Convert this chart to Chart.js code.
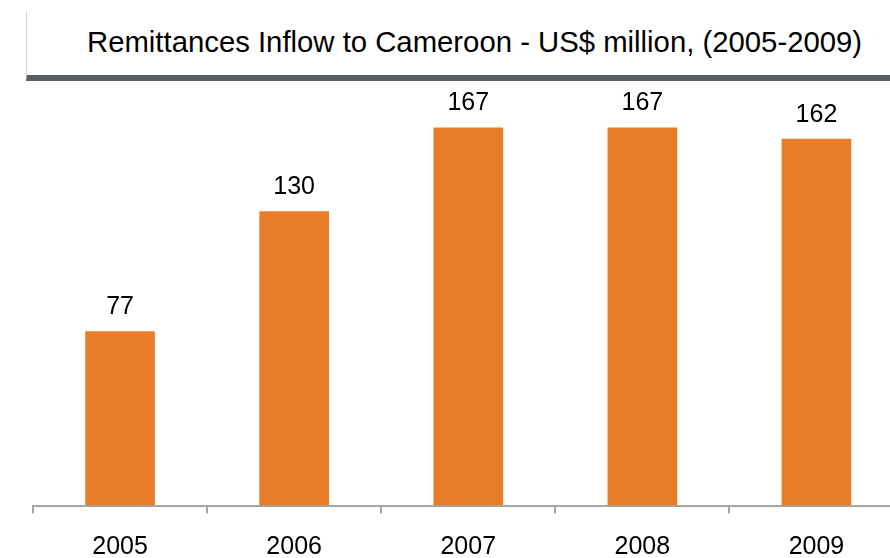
<!DOCTYPE html>
<html>
<head>
<meta charset="utf-8">
<script src="https://cdn.jsdelivr.net/npm/chart.js@4.4.0/dist/chart.umd.min.js"></script>
<style>
  html, body { margin: 0; padding: 0; background: #fff; overflow: hidden; width: 890px; height: 558px; }
  body { position: relative; font-family: 'Liberation Sans', Arial, sans-serif; }
  #header { position: absolute; left: 26px; top: 11px; width: 863px; height: 64px;
            border-left: 1px solid #d9d9d9; border-bottom: 6px solid #5b5f61; }
  #title { position: absolute; left: 87px; top: 27px; font-size: 29.3px; line-height: 29px;
           color: #000; white-space: nowrap; }
  #wrap { position: absolute; left: 0; top: 0; width: 906px; height: 558px; }
</style>
</head>
<body>
<div id="header"></div>
<div id="title">Remittances Inflow to Cameroon - US$ million, (2005-2009)</div>
<div id="wrap"><canvas id="barChart"></canvas></div>
<script>
  // data
  const years = ['2005', '2006', '2007', '2008', '2009'];
  const remittances = [77, 130, 167, 167, 162];

  const barColor = '#E87C28';
  const axisColor = '#a6a6a6';
  const fontFamily = "'Liberation Sans', Arial, sans-serif";

  // values above the bars
  const valueLabels = {
    id: 'valueLabels',
    afterDatasetsDraw(chart) {
      const ctx = chart.ctx;
      const meta = chart.getDatasetMeta(0);
      ctx.save();
      ctx.font = '25px ' + fontFamily;
      ctx.fillStyle = '#000';
      ctx.textAlign = 'center';
      ctx.textBaseline = 'alphabetic';
      meta.data.forEach((bar, i) => {
        ctx.fillText(String(remittances[i]), bar.x, bar.y - 17);
      });
      ctx.restore();
    }
  };

  const ctx = document.getElementById('barChart').getContext('2d');
  const myBarChart = new Chart(ctx, {
    type: 'bar',
    data: {
      labels: years,
      datasets: [{
        data: remittances,
        backgroundColor: barColor,
        borderWidth: 0,
        barPercentage: 0.4,
        categoryPercentage: 1.0
      }]
    },
    options: {
      responsive: true,
      maintainAspectRatio: false,
      animation: false,
      layout: { padding: { left: 33, right: 2.5, top: 98, bottom: 0 } },
      plugins: {
        legend: { display: false },
        tooltip: { enabled: false }
      },
      scales: {
        x: {
          afterFit(scale) { scale.height = 52.5; },
          grid: {
            display: true,
            drawOnChartArea: false,
            drawTicks: true,
            tickLength: 8,
            color: axisColor,
            lineWidth: 2,
            offset: true
          },
          border: { display: true, color: axisColor, width: 2 },
          ticks: {
            color: '#000',
            font: { family: fontFamily, size: 25 },
            padding: 19,
            autoSkip: false,
            maxRotation: 0
          }
        },
        y: {
          display: false,
          min: 0,
          max: 180
        }
      }
    },
    plugins: [valueLabels]
  });
</script>
</body>
</html>
